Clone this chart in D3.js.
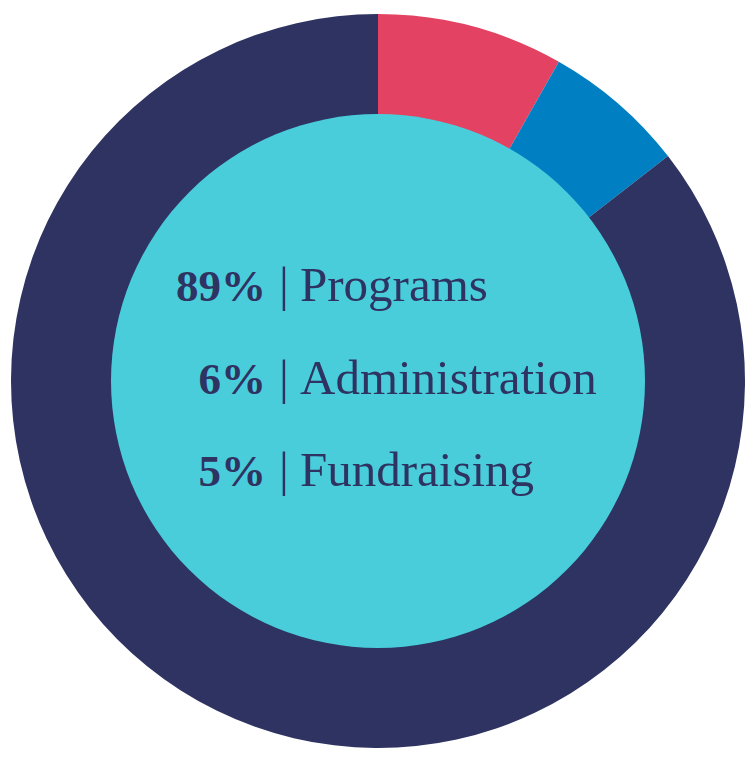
<!DOCTYPE html>
<html lang="en">
<head>
	<title>Expenses</title>
	<script src="https://d3js.org/d3.v7.min.js" charset="utf-8"></script>
	<style>
		body { margin: 0; background: #fff; }
	</style>
</head>
<body>
	<script>

	// ring slices (clockwise from 12 o'clock)
	var sliceNames = ["red", "blue", "navy"];
	var sliceValues = [8.2, 6.3, 85.5];
	var sliceColors = ["#e34262", "#0080c3", "#2e3361"];

	// legend text in the middle
	var pctLabels = ["89%", "6%", "5%"];
	var catLabels = ["Programs", "Administration", "Fundraising"];

	var width = 756,
		height = 760;

	var cx = 378, cy = 381,
		outerR = 367, innerR = 267;

	var svg = d3.select("body")
		.append("svg")
		.attr("width", width)
		.attr("height", height);

	var pie = d3.pie()
		.sort(null)
		.value(function(d) { return d; });

	var arc = d3.arc()
		.innerRadius(innerR - 1)
		.outerRadius(outerR);

	var g = svg.append("g")
		.attr("transform", "translate(" + cx + "," + cy + ")");

	g.selectAll("path")
		.data(pie(sliceValues))
		.enter().append("path")
		.attr("d", arc)
		.attr("fill", function(d, i) { return sliceColors[i]; });

	// centre disc
	g.append("circle")
		.attr("r", innerR)
		.attr("fill", "#4acddb");

	var y = d3.scalePoint()
		.domain(catLabels)
		.range([301, 486]);

	var rows = svg.append("g")
		.attr("font-family", "'Liberation Serif', serif")
		.attr("font-size", 49)
		.attr("fill", "#2e3361");

	var row = rows.selectAll("g")
		.data(catLabels)
		.enter().append("g")
		.attr("transform", function(d) { return "translate(0," + y(d) + ")"; });

	row.append("text")
		.attr("x", 266)
		.attr("text-anchor", "end")
		.attr("font-weight", "bold")
		.attr("font-size", 45)
		.text(function(d, i) { return pctLabels[i]; });

	row.append("text")
		.attr("x", 284)
		.attr("text-anchor", "middle")
		.text("|");

	row.append("text")
		.attr("x", 300)
		.text(function(d) { return d; });

	</script>
</body>
</html>
